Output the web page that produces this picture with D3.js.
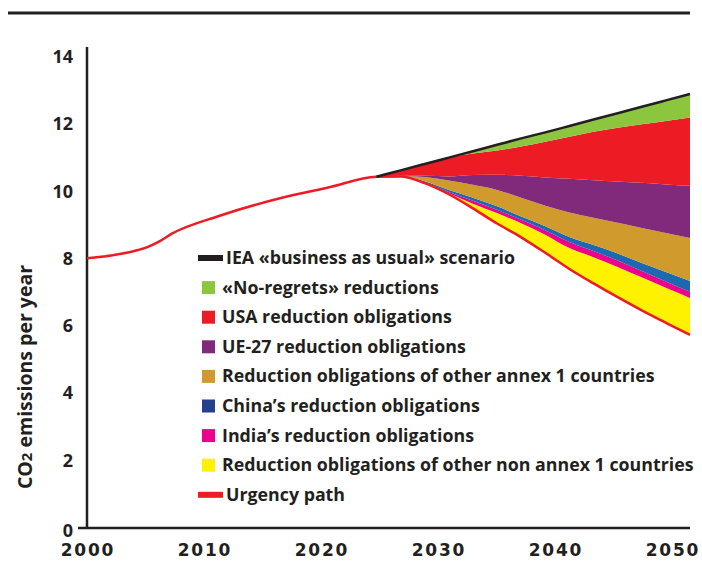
<!DOCTYPE html>
<html lang="en">
<head>
<meta charset="UTF-8">
<title>CO2 emissions per year</title>
<script src="https://d3js.org/d3.v7.min.js"></script>
<style>
  body { margin: 0; background: #fff; }
  svg text { font-family: "Open Sans", sans-serif; font-weight: 700; fill: #231f20; }
  .tick-x { font-family: "DejaVu Sans", sans-serif; font-size: 17px; letter-spacing: 1.8px; }
  .tick-y { font-size: 18px; }
  .legend text { font-size: 17.8px; }
</style>
</head>
<body>
<svg id="chart" width="702" height="561"></svg>
<script>
// urgency path, whole period
const urgencyYears = [2000, 2002, 2004, 2005, 2006, 2007, 2011, 2016, 2020, 2024, 2026, 2028, 2030,
  2032, 2034, 2036, 2038, 2040, 2042, 2044, 2046, 2048, 2050];
const urgency = [8.02, 8.10, 8.24, 8.35, 8.52, 8.74, 9.28, 9.80, 10.12, 10.44, 10.45, 10.25, 9.92,
  9.50, 9.05, 8.64, 8.18, 7.70, 7.27, 6.86, 6.47, 6.10, 5.74];

// reduction wedges (projection years)
const years = [2024, 2026, 2028, 2030, 2032, 2034, 2036, 2038, 2040, 2042, 2044, 2046, 2048, 2050];
const noRegrets = [0, 0, 0, 0, 0.07, 0.17, 0.24, 0.28, 0.32, 0.36, 0.43, 0.52, 0.61, 0.70];
const usa = [0, 0.16, 0.35, 0.56, 0.64, 0.72, 0.87, 1.06, 1.25, 1.44, 1.60, 1.74, 1.89, 2.03];
const eu27 = [0, 0, 0.04, 0.12, 0.29, 0.45, 0.65, 0.84, 1.00, 1.12, 1.23, 1.34, 1.44, 1.55];
const otherAnnex1 = [0, 0.02, 0.12, 0.28, 0.38, 0.49, 0.56, 0.61, 0.73, 0.81, 0.91, 1.04, 1.16, 1.28];
const china = [0, 0, 0.03, 0.06, 0.09, 0.10, 0.10, 0.12, 0.15, 0.18, 0.21, 0.24, 0.28, 0.32];
const india = [0, 0, 0.03, 0.04, 0.09, 0.10, 0.10, 0.13, 0.18, 0.18, 0.19, 0.19, 0.19, 0.18];
const otherNonAnnex1 = [0, 0, 0, 0.03, 0.14, 0.31, 0.42, 0.54, 0.62, 0.78, 0.90, 0.98, 1.04, 1.10];

const yTicks = [0, 2, 4, 6, 8, 10, 12, 14];
const xTicks = [2000, 2010, 2020, 2030, 2040, 2050];

const legendLabels = [
  "IEA «business as usual» scenario",
  "«No-regrets» reductions",
  "USA reduction obligations",
  "UE-27 reduction obligations",
  "Reduction obligations of other annex 1 countries",
  "China’s reduction obligations",
  "India’s reduction obligations",
  "Reduction obligations of other non annex 1 countries",
  "Urgency path"
];

const svg = d3.select("#chart");

const x = d3.scaleLinear().domain([2000, 2050]).range([87, 690]);
const xLabel = d3.scaleLinear().domain([2000, 2050]).range([88, 673]);
const y = d3.scaleLinear().domain([0, 14]).range([528, 57]);

// top rule
svg.append("line")
  .attr("x1", 8).attr("x2", 690).attr("y1", 13).attr("y2", 13)
  .attr("stroke", "#231f20").attr("stroke-width", 3);

// stacked wedges, sitting on the urgency path
const keys = ["otherNonAnnex1", "india", "china", "otherAnnex1", "eu27", "usa", "noRegrets"];
const colors = {
  otherNonAnnex1: "#fff200", india: "#ec008c", china: "#1c68b1", otherAnnex1: "#d09a2c",
  eu27: "#812a7c", usa: "#ed1c24", noRegrets: "#8cc63f"
};
const src = { noRegrets, usa, eu27, otherAnnex1, china, india, otherNonAnnex1 };
const rows = years.map((yr, i) => {
  const r = { year: yr, base: urgency[urgencyYears.indexOf(yr)] };
  keys.forEach(k => r[k] = src[k][i]);
  return r;
});
const series = d3.stack().keys(keys)(rows);

const area = d3.area()
  .curve(d3.curveMonotoneX)
  .x(d => x(d.data.year))
  .y0(d => y(d[0] + d.data.base))
  .y1(d => y(d[1] + d.data.base));

svg.append("g").selectAll("path")
  .data(series)
  .join("path")
  .attr("fill", s => colors[s.key])
  .attr("d", area);

// axes
svg.append("line")
  .attr("x1", x(2000)).attr("x2", x(2000)).attr("y1", 47).attr("y2", y(0))
  .attr("stroke", "#231f20").attr("stroke-width", 2.5);
svg.append("line")
  .attr("x1", 78).attr("x2", x(2050)).attr("y1", y(0)).attr("y2", y(0))
  .attr("stroke", "#231f20").attr("stroke-width", 2.5);

svg.append("g").selectAll("text")
  .data(yTicks)
  .join("text")
  .attr("class", "tick-y")
  .attr("x", 73)
  .attr("y", d => d === 0 ? y(d) + 9 : y(d) + 6)
  .attr("font-size", d => d === 0 ? 12 : null)
  .attr("text-anchor", "end")
  .text(d => d);

svg.append("g").selectAll("text")
  .data(xTicks)
  .join("text")
  .attr("class", "tick-x")
  .attr("x", d => xLabel(d))
  .attr("y", 556)
  .attr("text-anchor", "middle")
  .text(d => d);

// y title
const title = svg.append("text")
  .attr("transform", "translate(32,377) rotate(-90)")
  .attr("text-anchor", "middle")
  .attr("font-size", 19.5);
title.append("tspan").text("CO");
title.append("tspan").attr("font-size", 15).text("2");
title.append("tspan").text(" emissions per year");

// urgency path and BAU line
const line = d3.line().curve(d3.curveMonotoneX).x(d => x(d[0])).y(d => y(d[1]));
svg.append("path")
  .attr("d", line(urgencyYears.map((yr, i) => [yr, urgency[i]])))
  .attr("fill", "none").attr("stroke", "#ed1c24").attr("stroke-width", 2.5);

const bau = series[series.length - 1].map(d => [d.data.year, d[1] + d.data.base]);
svg.append("path")
  .attr("d", line(bau))
  .attr("fill", "none").attr("stroke", "#231f20").attr("stroke-width", 2.5);

// legend
const legendSwatch = ["#231f20", "#8cc63f", "#ed1c24", "#812a7c", "#d09a2c", "#243f8e", "#ec008c", "#fff200", "#ed1c24"];
const lg = svg.append("g").attr("class", "legend");
const item = lg.selectAll("g")
  .data(legendLabels)
  .join("g")
  .attr("transform", (d, i) => `translate(0,${258 + i * 29.6})`);

item.filter((d, i) => i === 0 || i === 8)
  .append("rect")
  .attr("x", 198).attr("y", -3).attr("width", 25).attr("height", 6)
  .attr("fill", d => legendSwatch[legendLabels.indexOf(d)]);

item.filter((d, i) => i > 0 && i < 8)
  .append("rect")
  .attr("x", 202).attr("y", -6.5).attr("width", 13).attr("height", 13)
  .attr("fill", d => legendSwatch[legendLabels.indexOf(d)]);

item.append("text")
  .attr("x", (d, i) => i === 0 || i === 8 ? 226 : 222)
  .attr("y", 6)
  .text(d => d);
</script>
</body>
</html>
